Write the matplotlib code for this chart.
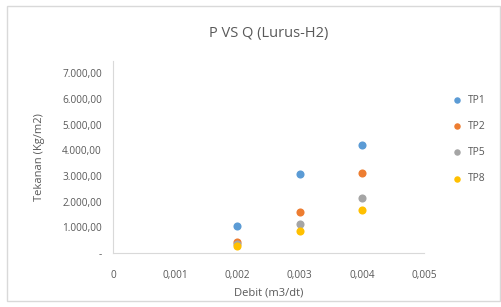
import matplotlib
matplotlib.use("Agg")
import matplotlib.pyplot as plt
from matplotlib.ticker import FuncFormatter
from matplotlib.patches import Rectangle

plt.rcParams["font.family"] = ["Open Sans", "DejaVu Sans"]

debit = [0.002, 0.003, 0.004]
series = ["TP1", "TP2", "TP5", "TP8"]
tp1 = [1050, 3070, 4200]
tp2 = [440, 1580, 3100]
tp5 = [350, 1130, 2150]
tp8 = [290, 870, 1690]
colors = ["#5B9BD5", "#ED7D31", "#A5A5A5", "#FFC000"]

text_col = "#595959"

fig = plt.figure(figsize=(5.02, 3.07), dpi=100)
fig.patches.append(Rectangle((0.014, 0.02), 0.982, 0.96, transform=fig.transFigure,
                             fill=False, edgecolor="#D9D9D9", linewidth=1))
ax = fig.add_axes([0.225, 0.176, 0.62, 0.625])

for vals, name, c in zip([tp1, tp2, tp5, tp8], series, colors):
    ax.scatter(debit, vals, s=34, color=c, label=name, zorder=3, linewidths=0)


def fmt_y(v, pos):
    if v == 0:
        return "-"
    s = f"{v:,.2f}"
    return s.replace(",", "X").replace(".", ",").replace("X", ".")


def fmt_x(v, pos):
    if abs(v) < 1e-12:
        return "0"
    return f"{v:.3f}".replace(".", ",")


ax.set_xlim(0, 0.005)
ax.set_ylim(0, 7470)
ax.set_xticks([0, 0.001, 0.002, 0.003, 0.004, 0.005])
ax.set_yticks(range(0, 7001, 1000))
ax.xaxis.set_major_formatter(FuncFormatter(fmt_x))
ax.yaxis.set_major_formatter(FuncFormatter(fmt_y))
ax.tick_params(length=0, labelsize=7.2, colors=text_col, pad=8)
ax.tick_params(axis="x", pad=12)

for side in ["top", "right"]:
    ax.spines[side].set_visible(False)
for side in ["left", "bottom"]:
    ax.spines[side].set_color("#D9D9D9")

ax.set_title("P VS Q (Lurus-H2)", fontsize=10.5, color=text_col, pad=17)
ax.set_xlabel("Debit (m3/dt)", fontsize=8, color=text_col, labelpad=5)
ax.set_ylabel("Tekanan (Kg/m2)", fontsize=8, color=text_col, labelpad=12)

ax.legend(loc="upper left", bbox_to_anchor=(1.06, 0.845), frameon=False,
          fontsize=7.5, labelcolor=text_col, handletextpad=0.0, labelspacing=1.45,
          markerscale=0.8, borderaxespad=0)

fig.savefig("out.png", dpi=100)
